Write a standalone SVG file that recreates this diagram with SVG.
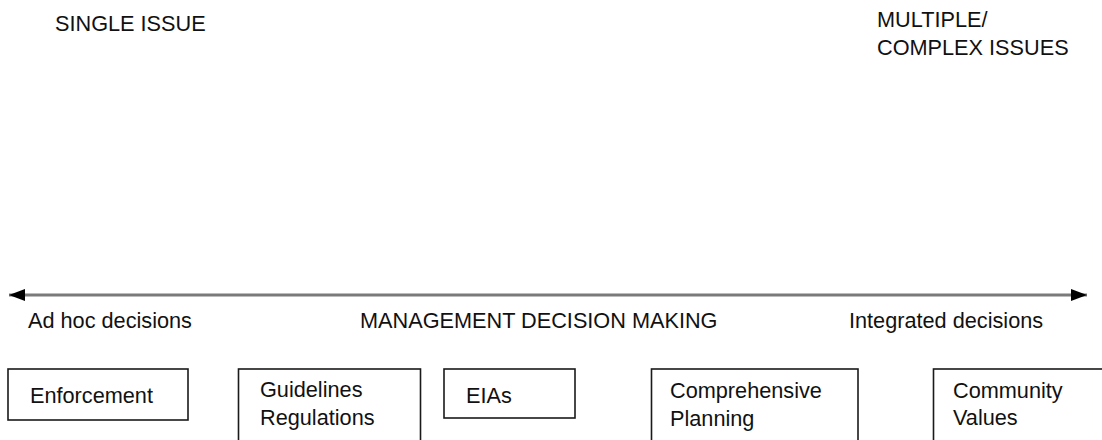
<svg xmlns="http://www.w3.org/2000/svg" width="1102" height="440" viewBox="0 0 1102 440">
<style>
text{font-family:"Liberation Sans",Arial,sans-serif;font-size:21.7px;fill:#111}
.box{fill:#fff;stroke:#1a1a1a;stroke-width:1.6}
</style>
<defs>
<marker id="ah" viewBox="0 0 16 12" refX="16" refY="6" markerWidth="16" markerHeight="12" orient="auto-start-reverse" markerUnits="userSpaceOnUse"><path d="M0,0 L16,6 L0,12 Z" fill="#000"/></marker>
</defs>
<rect width="1102" height="440" fill="#fff"/>
<g id="labels">
<text x="55" y="31">SINGLE ISSUE</text>
<text x="877" y="27">MULTIPLE/</text>
<text x="877" y="55">COMPLEX ISSUES</text>
<text x="28" y="328">Ad hoc decisions</text>
<text x="360" y="328">MANAGEMENT DECISION MAKING</text>
<text x="849" y="328">Integrated decisions</text>
</g>
<g id="connectors">
<line x1="9" y1="295" x2="1087" y2="295" stroke="#7a7a7a" stroke-width="3" marker-start="url(#ah)" marker-end="url(#ah)"/>
</g>
<g id="enforcement"><rect class="box" x="8" y="369" width="180" height="51"/><text x="30" y="403">Enforcement</text></g>
<g id="guidelines"><rect class="box" x="238.5" y="369" width="182" height="100"/><text x="260" y="397">Guidelines</text><text x="260" y="425">Regulations</text></g>
<g id="eias"><rect class="box" x="444" y="369" width="131" height="49"/><text x="466" y="403">EIAs</text></g>
<g id="comprehensive"><rect class="box" x="651.5" y="369" width="206.5" height="100"/><text x="670" y="398">Comprehensive</text><text x="670" y="426">Planning</text></g>
<g id="community"><rect class="box" x="933.5" y="369" width="200" height="100"/><text x="953" y="398">Community</text><text x="953" y="425">Values</text></g>
</svg>
